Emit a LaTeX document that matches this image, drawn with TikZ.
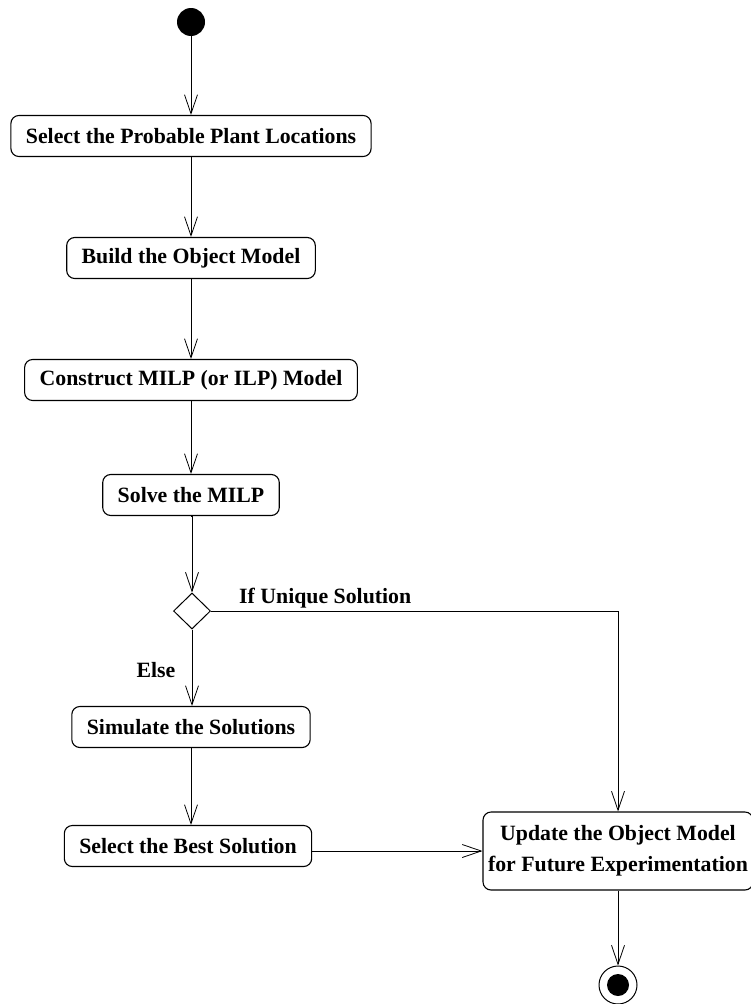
\documentclass[tikz,border=0pt]{standalone}
\usepackage{fontspec}
\setmainfont{Liberation Serif}
\usetikzlibrary{positioning,shapes.geometric,arrows.meta}

\begin{document}
\begin{tikzpicture}[
  x=1pt, y=-1pt,
  act/.style  = {rectangle, rounded corners=8pt, draw, line width=1.1pt,
                 inner xsep=15pt, minimum height=41pt, align=center,
                 font=\fontsize{21.8}{31}\selectfont\bfseries},
  dec/.style  = {diamond, draw, line width=1pt, minimum width=37pt,
                 minimum height=36pt, inner sep=0pt},
  init/.style = {circle, fill=black, minimum size=28pt, inner sep=0pt},
  fin/.style  = {circle, draw, line width=1pt, minimum size=38pt, inner sep=0pt},
  flow/.style = {-{Straight Barb[length=19pt, width=13pt, line width=0.8pt]},
                 line width=0.9pt},
  lbl/.style  = {font=\fontsize{21.8}{26}\selectfont\bfseries, inner sep=0pt}
]
  \useasboundingbox (0,0) rectangle (751,1004);

  % ---- Start ----
  \node[init] at (191, 22)  (start)   {};

  % ---- Main column ----
  \node[act]  at (191, 136) (select)  {Select the Probable Plant Locations};
  \node[act]  at (191, 258) (build)   {Build the Object Model};
  \node[act]  at (191, 380) (milp)    {Construct MILP (or ILP) Model};
  \node[act]  at (191, 495) (solve)   {Solve the MILP};
  \node[dec]  at (192, 611) (choice)  {};
  \node[act]  at (191, 727) (simul)   {Simulate the Solutions};
  \node[act]  at (188, 846) (best)    {Select the Best Solution};

  % ---- Right column ----
  \node[act, minimum width=266pt, minimum height=78pt, inner xsep=5pt]
              at (618, 851) (update)  {Update the Object Model\\for Future Experimentation};
  \node[fin]  at (618, 985) (stop)    {};
  \node[init, minimum size=22pt] at (stop) (stopcore) {};

  % ---- Guards ----
  \node[lbl, anchor=west] at (239, 598) (unique) {If Unique Solution};
  \node[lbl] at (156, 670) (else) {Else};

  % ---- Arrows ----
  \draw[flow] (start)  -- (select);
  \draw[flow] (select) -- (build);
  \draw[flow] (build)  -- (milp);
  \draw[flow] (milp)   -- (solve);
  \draw[flow] (solve.south) -- (solve.south -| choice.north) -- (choice.north);
  \draw[flow] (choice.south) -- (choice.south |- simul.north);
  \draw[flow] (simul.south) -- (simul.south |- best.north);
  \draw[flow] (choice.east) -| (update.north);
  \draw[flow] (best.east |- update.west) -- (update.west);
  \draw[flow] (update) -- (stop);
\end{tikzpicture}
\end{document}
